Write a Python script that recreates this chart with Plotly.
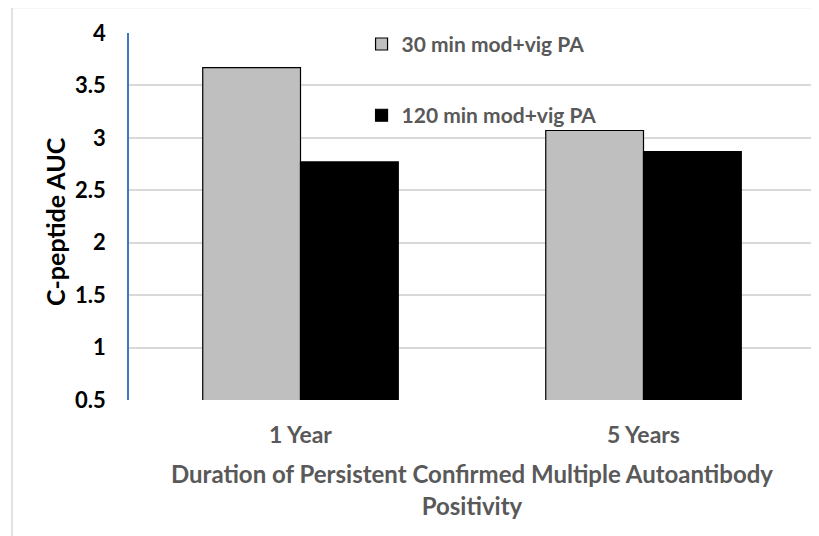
import plotly.graph_objects as go

categories = ["1 Year", "5 Years"]
series_names = ["30 min mod+vig PA", "120 min mod+vig PA"]
vals_30 = [3.67, 3.07]
vals_120 = [2.77, 2.87]
y_ticks = [0.5, 1, 1.5, 2, 2.5, 3, 3.5, 4]
y_labels = ["0.5", "1", "1.5", "2", "2.5", "3", "3.5", "4"]

fig = go.Figure()
fig.add_trace(go.Bar(x=categories, y=vals_30, name=series_names[0], legendgroup="a",
                     marker=dict(color="#bfbfbf", line=dict(color="black", width=1.2))))
fig.add_trace(go.Bar(x=categories, y=vals_120, name=series_names[1], legendgroup="b",
                     marker=dict(color="black", line=dict(color="black", width=1.2))))

# page body has an 8px margin, so the figure is 8px smaller than the window
W, H = 811, 528
ML, MR, MT, MB = 121, 4, 25, 136
pw, ph = W - ML - MR, H - MT - MB

fig.update_layout(
    width=W, height=H,
    margin=dict(l=ML, r=MR, t=MT, b=MB, autoexpand=False),
    plot_bgcolor="white", paper_bgcolor="white",
    barmode="group", bargap=0.43, bargroupgap=0,
    font=dict(family="Lato, sans-serif", color="#595959"),
    legend=dict(x=0.339, y=1.025, xanchor="left", yanchor="top",
                traceorder="grouped", tracegroupgap=41,
                font=dict(size=21, color="#595959", family="Lato, sans-serif", weight="bold"),
                bgcolor="rgba(0,0,0,0)"),
    xaxis=dict(
        showgrid=False, showline=False, ticks="", automargin=False,
        ticklabelstandoff=19,
        tickfont=dict(size=23, color="#595959", weight="bold"),
        title=dict(text="Duration of Persistent Confirmed Multiple Autoantibody<br>Positivity",
                   font=dict(size=24, color="#595959", weight="bold"), standoff=19),
    ),
    yaxis=dict(
        range=[0.5, 4], tickvals=y_ticks, ticktext=y_labels,
        showgrid=True, gridcolor="#d9d9d9", gridwidth=1.5,
        showline=True, linecolor="#4472c4", linewidth=1.5,
        zeroline=False, ticks="", ticklabelstandoff=17, automargin=False,
        tickfont=dict(size=22, color="black", weight="bold"),
    ),
)

# y axis title placed as a rotated annotation so its position is exact
fig.add_annotation(text="C-peptide AUC", xref="paper", yref="paper",
                   x=(47 - ML) / pw, y=0.485, xanchor="center", yanchor="middle",
                   textangle=-90, showarrow=False,
                   font=dict(size=25, color="black", weight="bold", family="Lato, sans-serif"))

# light gray frame around the chart area (right and bottom edges fall outside the page)
fig.add_shape(type="rect", xref="paper", yref="paper",
              x0=(4 - ML) / pw, x1=1 + (MR + 20) / pw, y0=-(MB + 20) / ph, y1=1 + (MT + 0.5) / ph,
              line=dict(color="#d9d9d9", width=1.5), fillcolor="rgba(0,0,0,0)", layer="below")

fig.write_html("out.html")
